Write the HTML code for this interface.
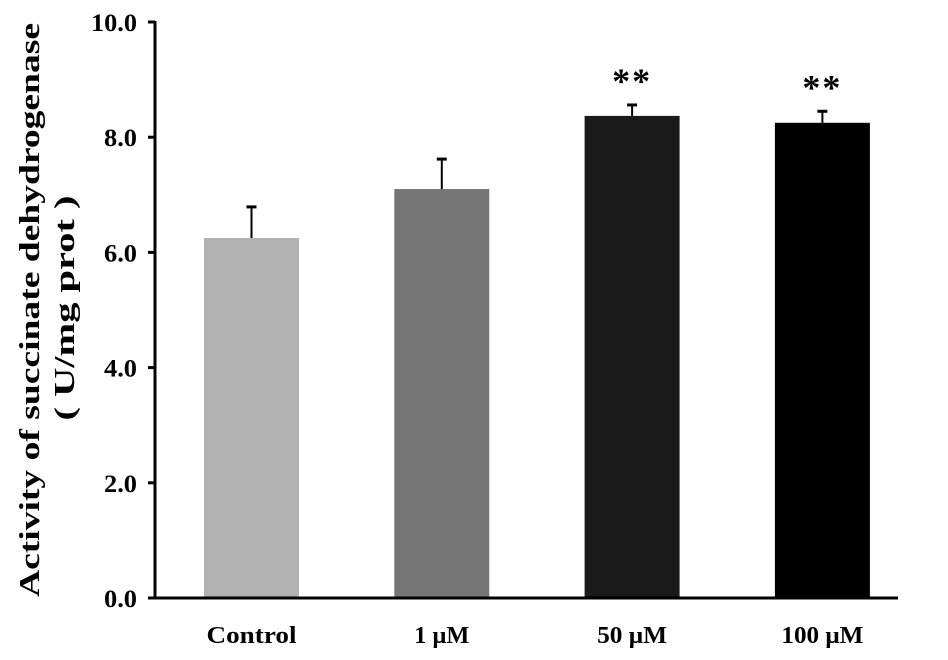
<!DOCTYPE html>
<html><head><meta charset="utf-8"><style>
html,body{margin:0;padding:0;background:#fff;}
svg{display:block;font-family:"Liberation Serif","DejaVu Serif",serif;font-weight:bold;}
</style></head><body>
<svg id="chart" width="948" height="660" viewBox="0 0 948 660" xmlns="http://www.w3.org/2000/svg">
<g>
<text transform="translate(39,310) rotate(-90)" text-anchor="middle" font-size="28" textLength="574" lengthAdjust="spacingAndGlyphs">Activity of succinate dehydrogenase</text>
<text transform="translate(74,308) rotate(-90)" text-anchor="middle" font-size="28" textLength="225" lengthAdjust="spacingAndGlyphs">( U/mg prot )</text>
</g>
<g id="plot"></g>
</svg>
<script>
const categories = ["Control", "1 μM", "50 μM", "100 μM"];
const values = [6.25, 7.10, 8.37, 8.25];
const errors = [0.54, 0.52, 0.19, 0.20];
const sigLabels = ["", "", "**", "**"];
const colors = ["#b2b2b2", "#767676", "#1a1a1a", "#000000"];
const yTicks = [0, 2, 4, 6, 8, 10];
const yTickLabels = ["0.0", "2.0", "4.0", "6.0", "8.0", "10.0"];
const xLabelWidths = [90, 55, 70, 82];

const NS = "http://www.w3.org/2000/svg";
const g = document.getElementById("plot");
const y0 = 598, yTop = 22, yMax = 10;
const y = v => y0 - (v / yMax) * (y0 - yTop);
const x0 = 156.5, step = 190.3, barW = 95;
const xc = i => x0 + 95 + i * step;
function mk(tag, attrs) { const e = document.createElementNS(NS, tag); for (const k in attrs) e.setAttribute(k, attrs[k]); g.appendChild(e); return e; }

categories.forEach((c, i) => {
  const b = mk("rect", {x: xc(i) - barW / 2, y: y(values[i]), width: barW, height: y0 - y(values[i]), fill: colors[i]});
  
  
  const e = mk("line", {x1: xc(i), x2: xc(i), y1: y(values[i]), y2: y(values[i] + errors[i]), stroke: "#000", "stroke-width": 2});
  
  
  const cap = mk("line", {x1: xc(i) - 5, x2: xc(i) + 5, y1: y(values[i] + errors[i]), y2: y(values[i] + errors[i]), stroke: "#000", "stroke-width": 3});
  
  
  const t = mk("text", {x: xc(i), y: 643, "text-anchor": "middle", "font-size": 24, textLength: xLabelWidths[i], lengthAdjust: "spacingAndGlyphs"});
  t.textContent = c;
  
  
  if (sigLabels[i]) {
    const s = mk("text", {x: xc(i), y: y(values[i] + errors[i]) - 12, "text-anchor": "middle", "font-size": 36, "letter-spacing": "2"});
    s.textContent = sigLabels[i];
    
    
  }
});

const ax = mk("line", {x1: 155, x2: 155, y1: yTop - 1, y2: y0 + 1, stroke: "#000", "stroke-width": 3});


const xa = mk("line", {x1: 148, x2: 898, y1: y0, y2: y0, stroke: "#000", "stroke-width": 3});


yTicks.forEach((v, i) => {
  const tk = mk("line", {x1: 148, x2: 155, y1: y(v), y2: y(v), stroke: "#000", "stroke-width": 3});
  
  
  const tl = mk("text", {x: 137, y: y(v) + 9, "text-anchor": "end", "font-size": 25, textLength: yTickLabels[i].length === 4 ? 46 : 33, lengthAdjust: "spacingAndGlyphs"});
  tl.textContent = yTickLabels[i];
  
  
});
</script>
</body></html>
